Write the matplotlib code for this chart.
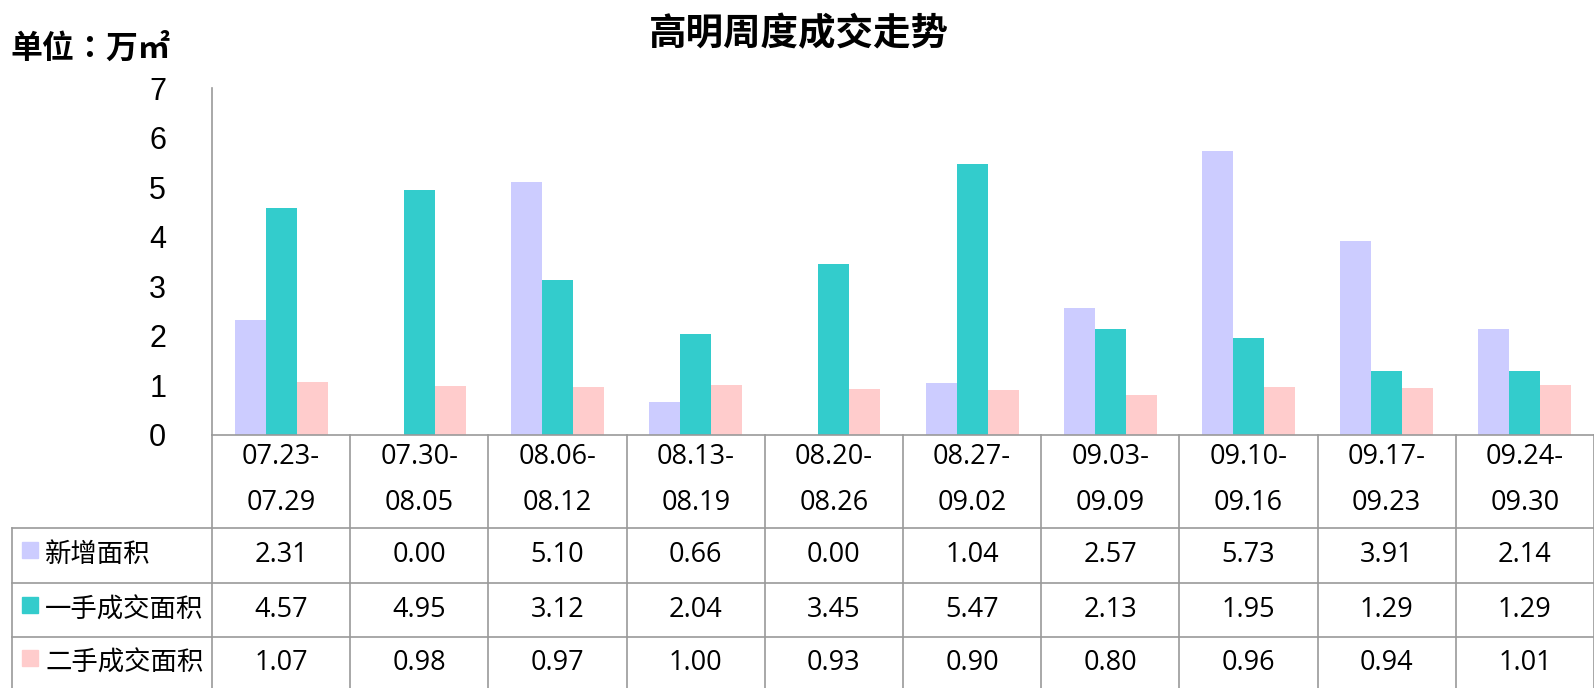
import numpy as np
import matplotlib
matplotlib.use("Agg")
import matplotlib.pyplot as plt
from matplotlib.patches import Rectangle

plt.rcParams['font.family'] = ['Noto Sans CJK SC', 'DejaVu Sans']

# data
weeks_top = ["07.23-", "07.30-", "08.06-", "08.13-", "08.20-",
             "08.27-", "09.03-", "09.10-", "09.17-", "09.24-"]
weeks_bot = ["07.29", "08.05", "08.12", "08.19", "08.26",
             "09.02", "09.09", "09.16", "09.23", "09.30"]
series_names = ["新增面积", "一手成交面积", "二手成交面积"]
new_area = [2.31, 0.00, 5.10, 0.66, 0.00, 1.04, 2.57, 5.73, 3.91, 2.14]
first_hand = [4.57, 4.95, 3.12, 2.04, 3.45, 5.47, 2.13, 1.95, 1.29, 1.29]
second_hand = [1.07, 0.98, 0.97, 1.00, 0.93, 0.90, 0.80, 0.96, 0.94, 1.01]
colors = ["#CCCCFF", "#33CCCC", "#FFCCCC"]

W, H = 1594, 688
def fx(px): return px / W
def fy(py): return 1 - py / H

grid_c = "#9a9a9a"
lw = 1.2
num_font = ['Open Sans', 'DejaVu Sans']

fig = plt.figure(figsize=(W / 100, H / 100), dpi=100)

# bar area
ax = fig.add_axes([fx(212), fy(435), fx(1594) - fx(212), fy(88) - fy(435)])
x = np.arange(len(weeks_top))
bw = 0.224
for i, vals in enumerate([new_area, first_hand, second_hand]):
    ax.bar(x + (i - 1) * bw, vals, width=bw, color=colors[i], zorder=2)
ax.set_xlim(-0.5, 9.5)
ax.set_ylim(0, 7)
ax.set_xticks([])
ax.set_yticks(range(0, 8))
ax.tick_params(axis='y', length=0, pad=33, labelsize=22)
for lab in ax.get_yticklabels():
    lab.set_fontfamily(['Liberation Sans', 'DejaVu Sans'])
for s in ['top', 'right', 'bottom']:
    ax.spines[s].set_visible(False)
ax.spines['left'].set_color(grid_c)
ax.spines['left'].set_linewidth(lw)

# data table
tax = fig.add_axes([fx(12), 0, fx(1594) - fx(12), fy(435)])
cw = 138.2
left_x = -0.5 - 200 / cw
tax.set_xlim(left_x, 9.5)
tax.set_ylim(688, 435)
tax.axis('off')

tax.plot([-0.5, 9.5], [435, 435], color=grid_c, lw=lw, clip_on=False)
for yy in [528, 583, 637]:
    tax.plot([left_x, 9.5], [yy, yy], color=grid_c, lw=lw, clip_on=False)
tax.plot([left_x, left_x], [528, 688], color=grid_c, lw=lw, clip_on=False)
for k in range(len(weeks_top) + 1):
    tax.plot([k - 0.5, k - 0.5], [435, 688], color=grid_c, lw=lw, clip_on=False)

fs = 19.5
for k in range(len(weeks_top)):
    tax.text(k, 457, weeks_top[k], ha='center', va='center', fontsize=fs,
             family=num_font)
    tax.text(k, 503, weeks_bot[k], ha='center', va='center', fontsize=fs,
             family=num_font)

row_y = [555, 610, 663]
for r, vals in enumerate([new_area, first_hand, second_hand]):
    sq = Rectangle((left_x + 10 / cw, row_y[r] - 13), 16 / cw, 16,
                   color=colors[r], clip_on=False)
    tax.add_patch(sq)
    tax.text(left_x + 33 / cw, row_y[r], series_names[r], ha='left',
             va='center', fontsize=19)
    for k, v in enumerate(vals):
        tax.text(k, row_y[r], f"{v:.2f}", ha='center', va='center',
                 fontsize=fs, family=num_font)

fig.text(fx(799), fy(34), "高明周度成交走势", ha='center', va='center',
         fontsize=27, fontweight='bold')
fig.text(fx(10), fy(49), "单位：万㎡", ha='left', va='center',
         fontsize=23, fontweight='bold',
         family=['Noto Sans CJK TC', 'DejaVu Sans'])

fig.savefig("out.png", dpi=100)
